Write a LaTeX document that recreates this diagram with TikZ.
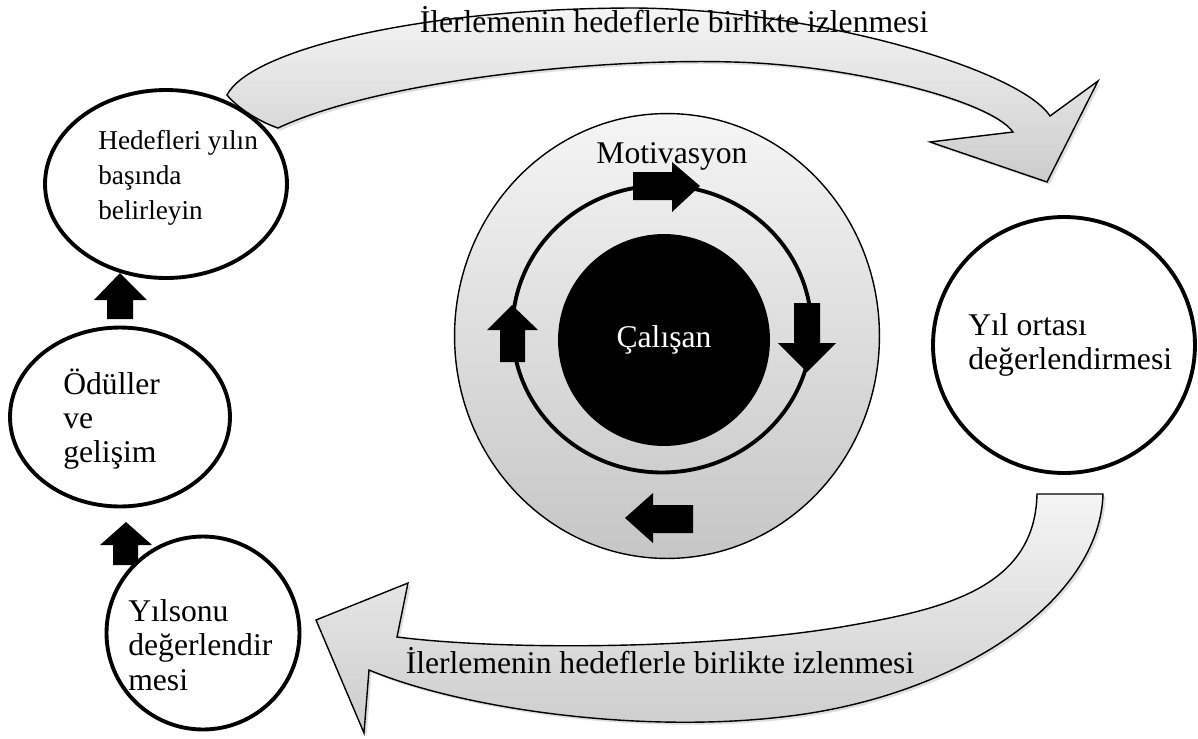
\documentclass[tikz,border=0pt]{standalone}
\usepackage{fontspec}
\setmainfont{Liberation Serif}
\usetikzlibrary{shapes.geometric,shadows}

\begin{document}
\begin{tikzpicture}[x=0.02cm, y=-0.02cm,
    main/.style = {draw, ellipse, line width=2.2pt, fill=white, inner sep=0pt},
    lbl/.style = {font=\fontsize{18}{19.5}\selectfont, align=left, inner sep=0pt},
    band/.style = {draw, line width=0.8pt, top color=gray!8, bottom color=gray!40,
        drop shadow={opacity=0.25, shadow xshift=1.5pt, shadow yshift=-1.5pt}},
    blk/.style = {fill=black}]

    \useasboundingbox (0,0) rectangle (1198,738);

    % centre: Motivasyon / Calisan
    \node [draw, ellipse, line width=0.8pt, top color=gray!8, bottom color=gray!45, minimum width=8.5cm, minimum height=8.9cm, inner sep=0pt] (motiv) at (667,336) {};
    \node [lbl, anchor=base] (motivT) at (672,163) {Motivasyon};
    \node [main, fill=none, minimum width=5.98cm, minimum height=5.74cm] (ring) at (662,329) {};
    \node [lbl, circle, fill=black, text=white, minimum size=4.24cm] (calisan) at (664,340) {Çalışan};

    \fill [blk] (633,172) -- (672,172) -- (672,162) -- (700,186) -- (672,212) -- (672,200) -- (633,200) -- cycle;
    \fill [blk] (794,303) -- (820,303) -- (820,343) -- (836,343) -- (807,372) -- (778,343) -- (794,343) -- cycle;
    \fill [blk] (693,505) -- (693,533) -- (653,533) -- (653,543) -- (625,518) -- (653,493) -- (653,505) -- cycle;
    \fill [blk] (500,362) -- (525,362) -- (525,330) -- (538,330) -- (512,305) -- (487,330) -- (500,330) -- cycle;

    % left column
    \fill [blk] (107,319) -- (133,319) -- (133,300) -- (147,300) -- (120,273) -- (94,300) -- (107,300) -- cycle;
    \fill [blk] (113,565) -- (138,565) -- (138,545) -- (152,545) -- (126,522) -- (100,545) -- (113,545) -- cycle;

    \node [main, minimum width=4.84cm, minimum height=3.76cm] (hedef) at (166,184) {};
    \node [main, minimum width=4.4cm, minimum height=3.58cm] (odul) at (120,417) {};
    \node [main, minimum width=3.86cm, minimum height=3.86cm] (yilsonu) at (203,633) {};
    \node [main, minimum width=5.24cm, minimum height=5.12cm] (yilort) at (1064,345) {};

    \node [lbl, font=\fontsize{15.5}{19.8}\selectfont, anchor=west] (hedefT) at (98,178) {Hedefleri yılın\\başında\\belirleyin};
    \node [lbl, anchor=west] (odulT) at (63,419) {Ödüller\\ve\\gelişim};
    \node [lbl, anchor=west] (yilsonuT) at (128,645) {Yılsonu\\değerlendir\\mesi};
    \node [lbl, anchor=west] (yilortT) at (968,345) {Yıl ortası\\değerlendirmesi};

    % curved arrows
    \draw [band] (227,95) .. controls (250,50) and (420,8) .. (636,8)
        .. controls (820,10) and (1020,70) .. (1050,116)
        -- (1098,81) -- (1047,182) -- (930,142) -- (1013,132)
        .. controls (990,100) and (850,65) .. (733,62)
        .. controls (600,58) and (380,80) .. (278,128)
        .. controls (255,120) and (235,105) .. cycle;
    \draw [band] (1037,494) -- (1103,494)
        .. controls (1100,600) and (960,695) .. (790,716)
        .. controls (640,735) and (460,708) .. (369,670)
        -- (364,733) -- (316,620) -- (408,583) -- (397,637)
        .. controls (500,650) and (700,650) .. (841,627)
        .. controls (940,610) and (1035,590) .. cycle;

    \node [lbl, anchor=base] (topT) at (674,32) {İlerlemenin hedeflerle birlikte izlenmesi};
    \node [lbl, anchor=base] (botT) at (660,673) {İlerlemenin hedeflerle birlikte izlenmesi};

\end{tikzpicture}
\end{document}
